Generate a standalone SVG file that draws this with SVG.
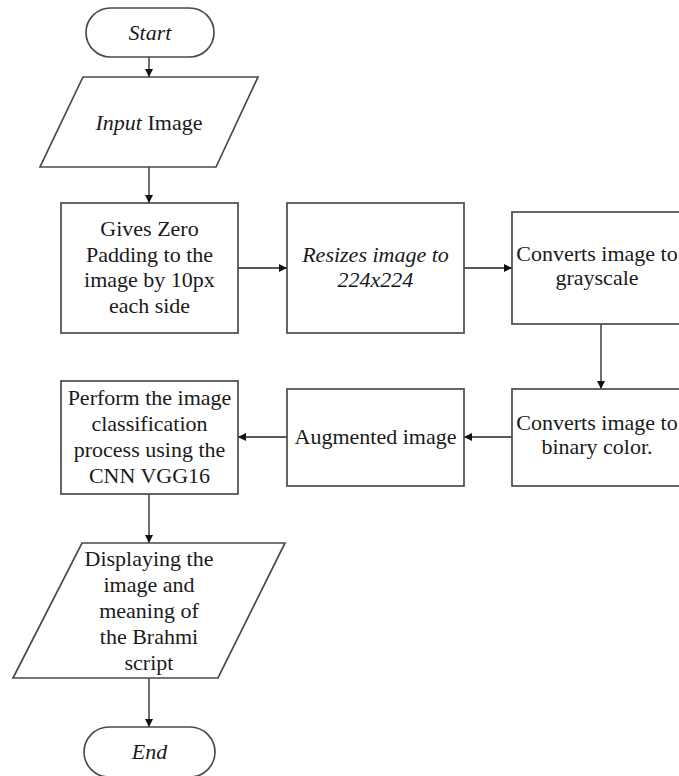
<svg xmlns="http://www.w3.org/2000/svg" width="679" height="776" viewBox="0 0 679 776">
<defs>
<marker id="ah" markerWidth="10" markerHeight="10" refX="9" refY="5" orient="auto" markerUnits="userSpaceOnUse">
<path d="M1,1 L9,5 L1,9 Z" fill="#111"/>
</marker>
<style>
.shape{fill:#fff;stroke:#4a4a4a;stroke-width:1.7}
.conn{stroke:#222;stroke-width:1.3;fill:none;marker-end:url(#ah)}
.t{font-family:"Liberation Serif","Times New Roman",Times,serif;font-size:22px;fill:#1a1a1a;text-anchor:middle}
.it{font-style:italic}
</style>
</defs>
<rect width="679" height="776" fill="#fff"/>
<g id="connectors">
<line class="conn" x1="149" y1="57" x2="149" y2="77"/>
<line class="conn" x1="149" y1="167" x2="149" y2="203"/>
<line class="conn" x1="238" y1="268" x2="287" y2="268"/>
<line class="conn" x1="464" y1="268" x2="512" y2="268"/>
<line class="conn" x1="601" y1="324" x2="601" y2="389"/>
<line class="conn" x1="512" y1="437" x2="464" y2="437"/>
<line class="conn" x1="287" y1="437" x2="238" y2="437"/>
<line class="conn" x1="149" y1="494" x2="149" y2="543"/>
<line class="conn" x1="149" y1="678" x2="149" y2="727"/>
</g>
<g class="t">
<g id="start">
<rect class="shape" x="86" y="8" width="128" height="49" rx="24.5"/>
<text class="it" x="150" y="40">Start</text>
</g>
<g id="input">
<polygon class="shape" points="83,77 258,77 216,167 40,167"/>
<text x="149" y="130"><tspan class="it">Input</tspan> Image</text>
</g>
<g id="padding">
<rect class="shape" x="61" y="203" width="177" height="130"/>
<text x="149.5" y="236">Gives Zero</text>
<text x="149.5" y="261.5">Padding to the</text>
<text x="149.5" y="287">image by 10px</text>
<text x="149.5" y="312.5">each side</text>
</g>
<g id="resize">
<rect class="shape" x="287" y="203" width="177" height="130"/>
<text class="it" x="375.5" y="262">Resizes image to</text>
<text class="it" x="375.5" y="287">224x224</text>
</g>
<g id="grayscale">
<rect class="shape" x="512" y="212" width="177" height="112"/>
<text x="597" y="261">Converts image to</text>
<text x="597" y="285">grayscale</text>
</g>
<g id="binary">
<rect class="shape" x="512" y="389" width="177" height="97"/>
<text x="597" y="430">Converts image to</text>
<text x="597" y="454">binary color.</text>
</g>
<g id="augmented">
<rect class="shape" x="287" y="389" width="177" height="97"/>
<text x="375.5" y="444">Augmented image</text>
</g>
<g id="classify">
<rect class="shape" x="61" y="381" width="177" height="113"/>
<text x="149.5" y="405">Perform the image</text>
<text x="149.5" y="431">classification</text>
<text x="149.5" y="457">process using the</text>
<text x="149.5" y="483">CNN VGG16</text>
</g>
<g id="display">
<polygon class="shape" points="82,543 285,543 218,678 13,678"/>
<text x="149" y="566">Displaying the</text>
<text x="149" y="592">image and</text>
<text x="149" y="618">meaning of</text>
<text x="149" y="644">the Brahmi</text>
<text x="149" y="670">script</text>
</g>
<g id="end">
<rect class="shape" x="84" y="727" width="131" height="50" rx="25"/>
<text class="it" x="149.5" y="759">End</text>
</g>
</g>
</svg>
